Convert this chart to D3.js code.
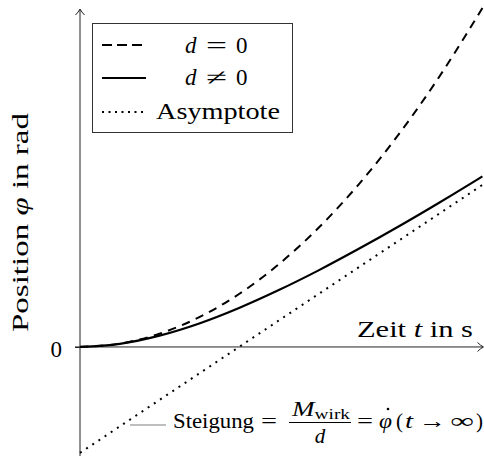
<!DOCTYPE html>
<html>
<head>
<meta charset="utf-8">
<script src="https://cdn.jsdelivr.net/npm/d3@7"></script>
<style>
  html, body { margin: 0; padding: 0; background: #fff; }
  svg { display: block; }
  text { font-family: "Liberation Serif", "Times New Roman", serif; fill: #000; }
</style>
</head>
<body>
<svg id="chart" width="484" height="459"></svg>
<script>
// ---- data ----
const timeValues   = [0, 0.25, 0.5, 0.75, 1.0, 1.25, 1.5, 1.75, 2.0, 2.25, 2.5, 2.53];
const phiUndamped  = [0, 0.031, 0.125, 0.281, 0.500, 0.781, 1.125, 1.531, 2.000, 2.531, 3.125, 3.200]; // d = 0
const phiDamped    = [0, 0.029, 0.107, 0.222, 0.368, 0.537, 0.723, 0.924, 1.135, 1.355, 1.582, 1.610]; // d ≠ 0
const asymTime     = [0, 2.53];
const asymPhi      = [-1, 1.53];
const yTickValues  = [0];
const yTickLabels  = ["0"];
const legendLabels = ["d = 0", "d ≠ 0", "Asymptote"];

const svg = d3.select("#chart");

const x = d3.scaleLinear().domain([0, 2.54]).range([80, 484]);
const y = d3.scaleLinear().domain([-1.02, 3.2]).range([455, 8]);

const axisColor = "#222";

// helper for text pieces
function put(str, px, py, o = {}) {
  const t = svg.append("text").attr("x", px).attr("y", py)
    .attr("font-size", o.size || 21).text(str);
  if (o.italic) t.attr("font-style", "italic");
  if (o.anchor) t.attr("text-anchor", o.anchor);
  if (o.len) t.attr("textLength", o.len).attr("lengthAdjust", "spacingAndGlyphs");
  return t;
}

// y axis (tick "0")
const yAxis = d3.axisLeft(y).tickValues(yTickValues)
  .tickFormat((d, i) => yTickLabels[i]).tickSize(5).tickPadding(13);
const gy = svg.append("g").attr("transform", `translate(${x(0)},0)`).call(yAxis);
gy.select(".domain").remove();
gy.selectAll(".tick line").attr("stroke", axisColor);
gy.selectAll(".tick text").attr("font-family", "Liberation Serif, serif")
  .attr("font-size", 23).attr("dy", "0.42em").attr("fill", "#000");

// axis lines with arrows
svg.append("line").attr("x1", x(0)).attr("x2", x(0)).attr("y1", 456).attr("y2", 9.5)
  .attr("stroke", axisColor).attr("stroke-width", 1);
svg.append("path").attr("d", `M${x(0)-4.5},15 Q${x(0)-1.5},12 ${x(0)},9 Q${x(0)+1.5},12 ${x(0)+4.5},15`)
  .attr("fill", "none").attr("stroke", axisColor).attr("stroke-width", 1);
svg.append("line").attr("x1", x(0) - 5).attr("x2", 483).attr("y1", y(0)).attr("y2", y(0))
  .attr("stroke", axisColor).attr("stroke-width", 1);
svg.append("path").attr("d", `M477.5,${y(0)-4.5} Q480.5,${y(0)-1.5} 483.5,${y(0)} Q480.5,${y(0)+1.5} 477.5,${y(0)+4.5}`)
  .attr("fill", "none").attr("stroke", axisColor).attr("stroke-width", 1);

// curves
const line = d3.line().x(d => x(d[0])).y(d => y(d[1])).curve(d3.curveCatmullRom.alpha(0.5));
const lin = d3.line().x(d => x(d[0])).y(d => y(d[1]));

svg.append("path").datum(asymTime.map((t, i) => [t, asymPhi[i]])).attr("d", lin)
  .attr("fill", "none").attr("stroke", "#000").attr("stroke-width", 2)
  .attr("stroke-dasharray", "2,5.4");
svg.append("path").datum(timeValues.map((t, i) => [t, phiUndamped[i]])).attr("d", line)
  .attr("fill", "none").attr("stroke", "#000").attr("stroke-width", 2)
  .attr("stroke-dasharray", "8.5,6.5");
svg.append("path").datum(timeValues.map((t, i) => [t, phiDamped[i]])).attr("d", line)
  .attr("fill", "none").attr("stroke", "#000").attr("stroke-width", 2.2);

// axis labels
svg.append("text").attr("transform", "translate(28,222.5) rotate(-90)")
  .attr("text-anchor", "middle").attr("font-size", 24)
  .attr("textLength", 219).attr("lengthAdjust", "spacingAndGlyphs")
  .call(t => {
    t.append("tspan").text("Position ");
    t.append("tspan").attr("font-style", "italic").text("φ");
    t.append("tspan").text(" in rad");
  });

svg.append("text").attr("x", 357).attr("y", 337).attr("font-size", 23)
  .attr("textLength", 116).attr("lengthAdjust", "spacingAndGlyphs")
  .call(t => {
    t.append("tspan").text("Zeit ");
    t.append("tspan").attr("font-style", "italic").text("t");
    t.append("tspan").text(" in s");
  });

// legend
svg.append("rect").attr("x", 92.5).attr("y", 23.5).attr("width", 200).attr("height", 109)
  .attr("fill", "#fff").attr("stroke", "#333").attr("stroke-width", 1);
const legendRows = [
  { y: 45, dash: "10,5", w: 2, base: 53 },
  { y: 78, dash: null, w: 2.2, base: 85 },
  { y: 112, dash: "2,4.5", w: 2, base: 119 }
];
legendRows.forEach(r => {
  const l = svg.append("line").attr("x1", 102).attr("x2", 146).attr("y1", r.y).attr("y2", r.y)
    .attr("stroke", "#000").attr("stroke-width", r.w);
  if (r.dash) l.attr("stroke-dasharray", r.dash);
});
[0, 1].forEach(i => {
  const parts = legendLabels[i].split(" ");
  put(parts[0], 185, legendRows[i].base, { size: 23, italic: true });
  put(parts[1], 206, legendRows[i].base, { size: 23, len: 21 });
  put(parts[2], 236, legendRows[i].base, { size: 23, len: 11.5 });
});
put(legendLabels[2], 156, legendRows[2].base, { size: 23, len: 124 });

// annotation
svg.append("line").attr("x1", 130).attr("x2", 166).attr("y1", 425).attr("y2", 425)
  .attr("stroke", "#aaa").attr("stroke-width", 1.3);
const base = 428;
put("Steigung", 173, base, { len: 81 });
put("=", 261, base, { len: 16 });
const num = svg.append("text").attr("x", 292).attr("y", 416).attr("font-size", 21)
  .attr("textLength", 58).attr("lengthAdjust", "spacingAndGlyphs");
num.append("tspan").attr("font-style", "italic").text("M");
num.append("tspan").attr("font-size", 15).attr("dy", 3).text("wirk");
svg.append("line").attr("x1", 289).attr("x2", 351).attr("y1", 422.5).attr("y2", 422.5)
  .attr("stroke", "#000").attr("stroke-width", 1);
put("d", 320, 443, { italic: true, anchor: "middle" });
put("=", 357, base, { len: 16 });
put("φ", 379, base, { italic: true, len: 13 });
svg.append("circle").attr("cx", 388).attr("cy", 409).attr("r", 1.3).attr("fill", "#000");
put("(", 396, base, { len: 7 });
put("t", 405, base, { italic: true, len: 8 });
put("→", 419, base, { len: 27 });
put("∞", 450, base, { len: 24 });
put(")", 476, base, { len: 7 });
</script>
</body>
</html>
